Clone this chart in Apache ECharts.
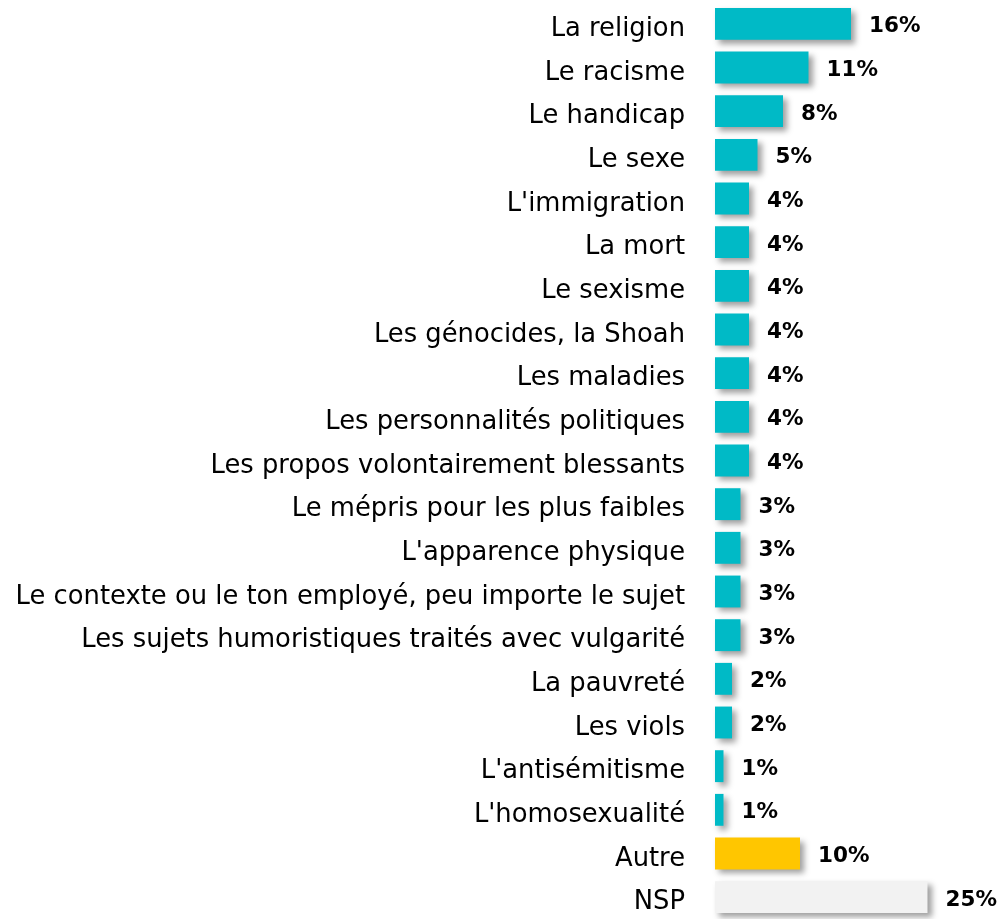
<!DOCTYPE html>
<html>
<head>
<meta charset="utf-8">
<script src="https://cdn.jsdelivr.net/npm/echarts@6/dist/echarts.min.js"></script>
<style>html,body{margin:0;padding:0;background:#fff;}#c{width:1000px;height:919px;}</style>
</head>
<body>
<div id="c"></div>
<script>
const categories = ["La religion","Le racisme","Le handicap","Le sexe","L'immigration","La mort","Le sexisme","Les génocides, la Shoah","Les maladies","Les personnalités politiques","Les propos volontairement blessants","Le mépris pour les plus faibles","L'apparence physique","Le contexte ou le ton employé, peu importe le sujet","Les sujets humoristiques traités avec vulgarité","La pauvreté","Les viols","L'antisémitisme","L'homosexualité","Autre","NSP"];
const values = [16,11,8,5,4,4,4,4,4,4,4,3,3,3,3,2,2,1,1,10,25];
const barColors = {"Autre":"#FFC600","NSP":"#F2F2F2"};
const defaultColor = "#00BAC6";

const chart = echarts.init(document.getElementById('c'));
chart.setOption({
  animation:false,
  backgroundColor:'#fff',
  grid:{left:715,right:30,top:2,bottom:-9,containLabel:false},
  xAxis:{type:'value',min:0,max:30,show:false},
  yAxis:{type:'category',data:categories,inverse:true,
    axisLine:{show:false},axisTick:{show:false},
    axisLabel:{margin:30,fontFamily:'DejaVu Sans',fontSize:25.8,color:'#000',verticalAlign:'top',lineHeight:11}},
  series:[{type:'bar',barCategoryGap:'27%',
    data:values.map((v,i)=>({value:v,itemStyle:{color:barColors[categories[i]]||defaultColor}})),
    itemStyle:{shadowColor:'rgba(0,0,0,0.38)',shadowBlur:6,shadowOffsetX:4,shadowOffsetY:4},
    label:{show:true,position:'right',distance:18,offset:[0,3],formatter:'{c}%',fontFamily:'DejaVu Sans',fontWeight:'bold',fontSize:21.5,color:'#000'}
  }]
});
</script>
</body>
</html>
